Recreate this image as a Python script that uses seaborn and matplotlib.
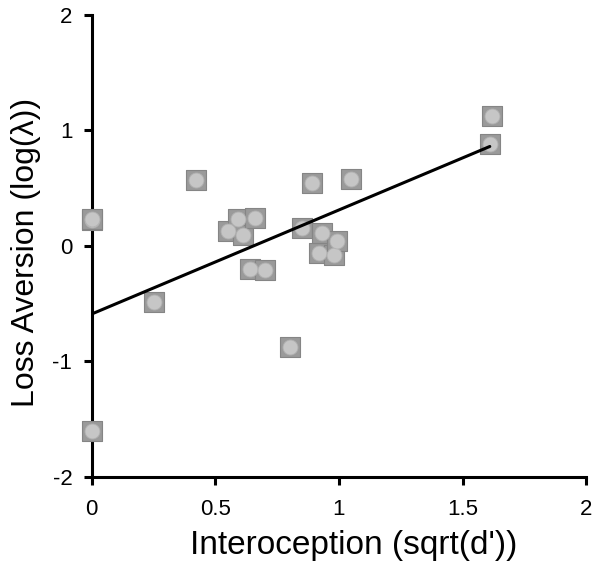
import numpy as np
import pandas as pd
import matplotlib
matplotlib.use("Agg")
import matplotlib.pyplot as plt
import seaborn as sns

# values
interoception = [0.00, 0.00, 0.00, 0.25, 0.42, 0.55, 0.59, 0.61, 0.64, 0.66,
                 0.70, 0.80, 0.85, 0.89, 0.92, 0.93, 0.98, 0.99, 1.05, 1.61, 1.62]
loss_aversion = [0.22, 0.23, -1.60, -0.49, 0.57, 0.13, 0.23, 0.09, -0.20, 0.245,
                 -0.21, -0.88, 0.15, 0.54, -0.06, 0.115, -0.08, 0.04, 0.58, 0.88, 1.12]

# fit line as drawn in the reference
fit_x = [0.0, 1.61]
fit_y = [-0.59, 0.86]

df = pd.DataFrame({"x": interoception, "y": loss_aversion})
fit = pd.DataFrame({"x": fit_x, "y": fit_y})

sns.set_style("ticks")
plt.rcParams['font.family'] = ['Liberation Sans', 'DejaVu Sans']
plt.rcParams['text.color'] = 'black'
plt.rcParams['axes.labelcolor'] = 'black'
plt.rcParams['xtick.color'] = 'black'
plt.rcParams['ytick.color'] = 'black'

fig = plt.figure(figsize=(6, 5.69), dpi=100)
ax = fig.add_axes([0.153, 0.162, 0.824, 0.812])

sns.lineplot(data=fit, x="x", y="y", ax=ax, color="black", lw=2.2, zorder=5)

# square markers with a lighter round centre
sns.scatterplot(data=df, x="x", y="y", ax=ax, marker="s", s=220,
                color="#9a9a9a", edgecolor="#858585", linewidth=0.8,
                zorder=3, clip_on=False)
sns.scatterplot(data=df, x="x", y="y", ax=ax, marker="o", s=115,
                color="#c6c6c6", edgecolor="#b2b2b2", linewidth=0.6,
                zorder=4, clip_on=False)

ax.set_xlim(0, 2)
ax.set_ylim(-2, 2)
ax.set_xticks([0, 0.5, 1, 1.5, 2])
ax.set_xticklabels(["0", "0.5", "1", "1.5", "2"])
ax.set_yticks([-2, -1, 0, 1, 2])
ax.set_yticklabels(["-2", "-1", "0", "1", "2"])

for s in ["top", "right"]:
    ax.spines[s].set_visible(False)
for s in ["left", "bottom"]:
    ax.spines[s].set_linewidth(2.2)
    ax.spines[s].set_color("black")
    ax.spines[s].set_zorder(2)
ax.tick_params(axis="both", direction="out", length=6, width=2.2,
               labelsize=16, color="black", labelcolor="black")
ax.tick_params(axis="x", pad=10)
ax.tick_params(axis="y", pad=8)

ax.set_xlabel("Interoception (sqrt(d'))", fontsize=24, color="black")
ax.set_ylabel("Loss Aversion (log(λ))", fontsize=23, color="black")
ax.xaxis.set_label_coords(0.53, -0.115)
ax.yaxis.set_label_coords(-0.103, 0.485)

fig.savefig("out.png", dpi=100)
